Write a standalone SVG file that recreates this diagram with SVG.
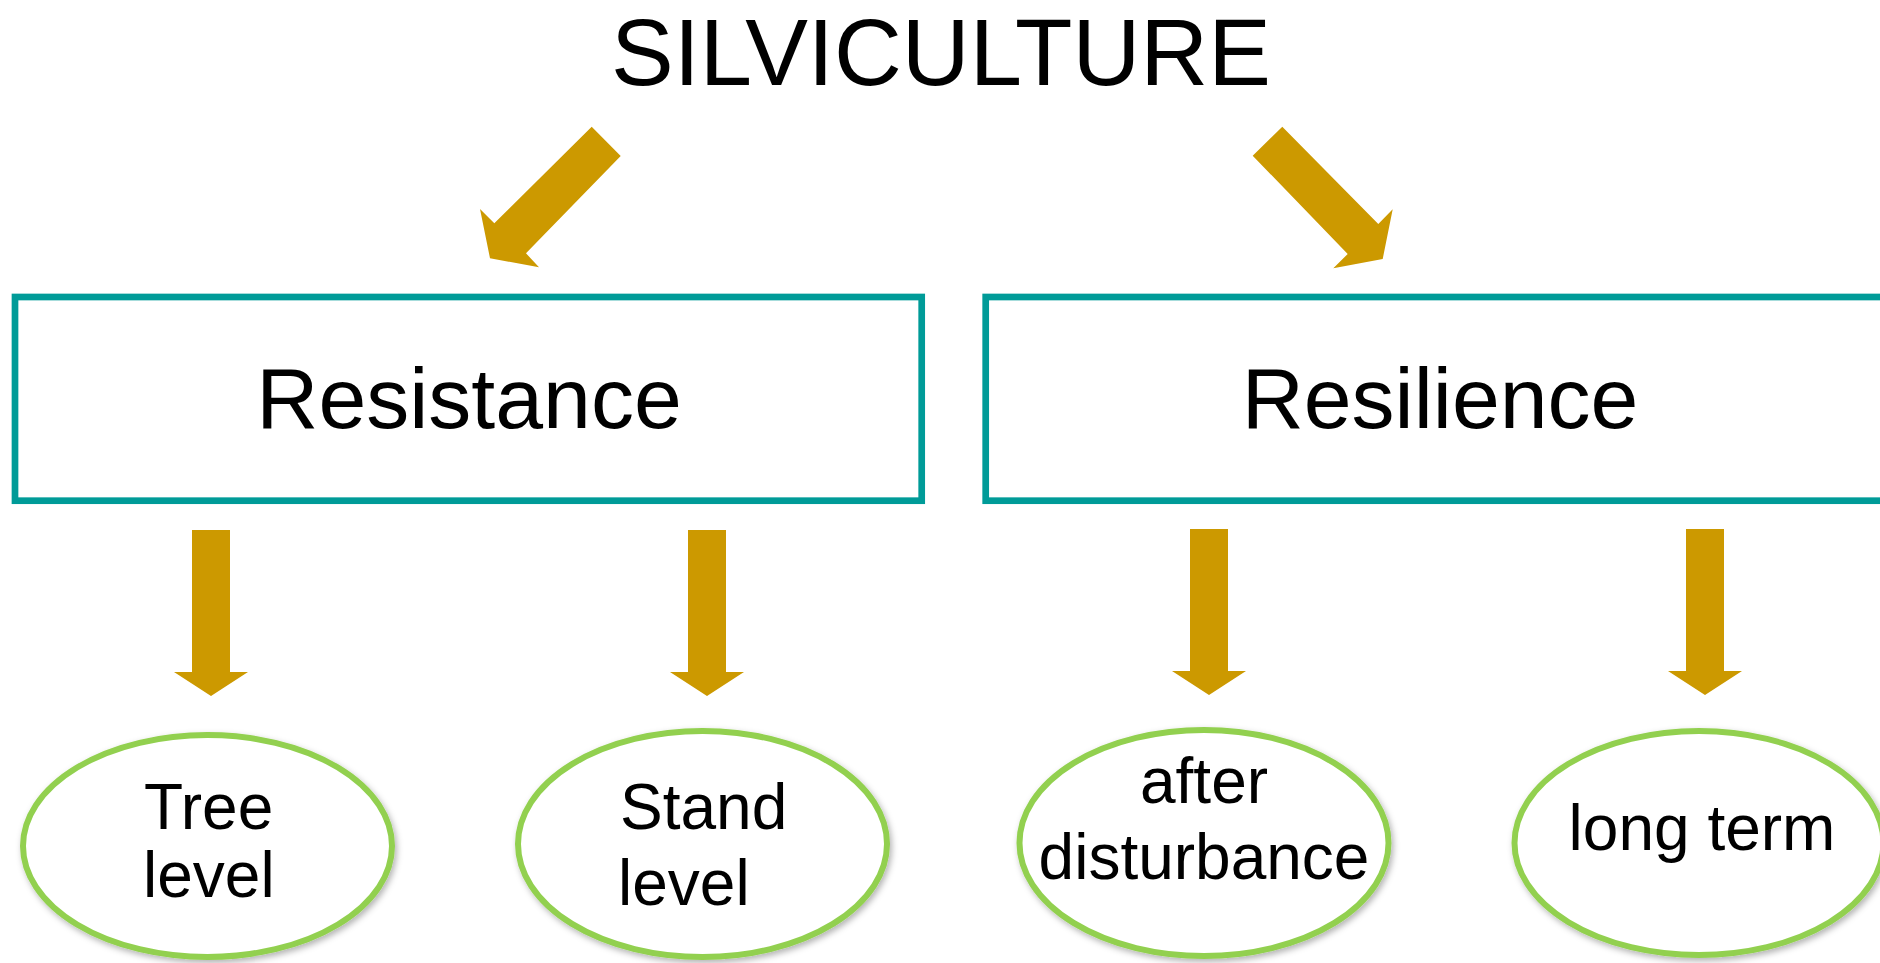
<svg xmlns="http://www.w3.org/2000/svg" width="1880" height="963" viewBox="0 0 1880 963">
<defs>
<filter id="sh" x="-10%" y="-10%" width="120%" height="125%">
<feDropShadow dx="2" dy="3" stdDeviation="3" flood-color="#000" flood-opacity="0.3"/>
</filter>
</defs>
<style>
.t{font-family:"Liberation Sans",Arial,sans-serif;fill:#000}
.box{fill:#fff;stroke:#009B98;stroke-width:6.7}
.ell{fill:#fff;stroke:#92D050;stroke-width:6}
.arr{fill:#CC9900}
</style>
<rect width="1880" height="963" fill="#fff"/>
<g id="title"><text class="t" x="941" y="85" font-size="94" text-anchor="middle">SILVICULTURE</text></g>
<g id="connectors">
<polygon class="arr" points="591.7,126.7 620.7,156 526,253.3 539,267.3 490,258.3 480,209 494.3,223.3"/>
<polygon class="arr" points="1282.3,126.7 1252.7,155.7 1347.7,254 1333.3,268.3 1382.7,259 1392.7,209.3 1378.3,224"/>
<polygon class="arr" points="192,530 230,530 230,672 248,672 211,696 174,672 192,672"/>
<polygon class="arr" points="688,530 726,530 726,672 744,672 707,696 670,672 688,672"/>
<polygon class="arr" points="1190,529 1228,529 1228,671 1246,671 1209,695 1172,671 1190,671"/>
<polygon class="arr" points="1686,529 1724,529 1724,671 1742,671 1705,695 1668,671 1686,671"/>
</g>
<g id="resistance">
<rect class="box" x="15" y="297" width="906.7" height="203.7"/>
<text class="t" x="469" y="428" font-size="86" text-anchor="middle">Resistance</text>
</g>
<g id="resilience">
<rect class="box" x="985.7" y="297" width="908" height="203.7"/>
<text class="t" x="1440" y="428" font-size="86" text-anchor="middle">Resilience</text>
</g>
<g id="tree-level">
<ellipse class="ell" filter="url(#sh)" cx="207.5" cy="846" rx="184.5" ry="111"/>
<text class="t" x="144" y="829" font-size="64">Tree</text>
<text class="t" x="143" y="897" font-size="64">level</text>
</g>
<g id="stand-level">
<ellipse class="ell" filter="url(#sh)" cx="702.5" cy="844" rx="184.5" ry="113"/>
<text class="t" x="620" y="829" font-size="64">Stand</text>
<text class="t" x="618" y="905" font-size="64">level</text>
</g>
<g id="after-disturbance">
<ellipse class="ell" filter="url(#sh)" cx="1204" cy="843" rx="184.5" ry="113"/>
<text class="t" x="1204" y="803" font-size="64" text-anchor="middle">after</text>
<text class="t" x="1204" y="879" font-size="64" text-anchor="middle">disturbance</text>
</g>
<g id="long-term">
<ellipse class="ell" filter="url(#sh)" cx="1699" cy="843" rx="184.5" ry="112"/>
<text class="t" x="1702" y="850" font-size="64" text-anchor="middle">long term</text>
</g>
</svg>
